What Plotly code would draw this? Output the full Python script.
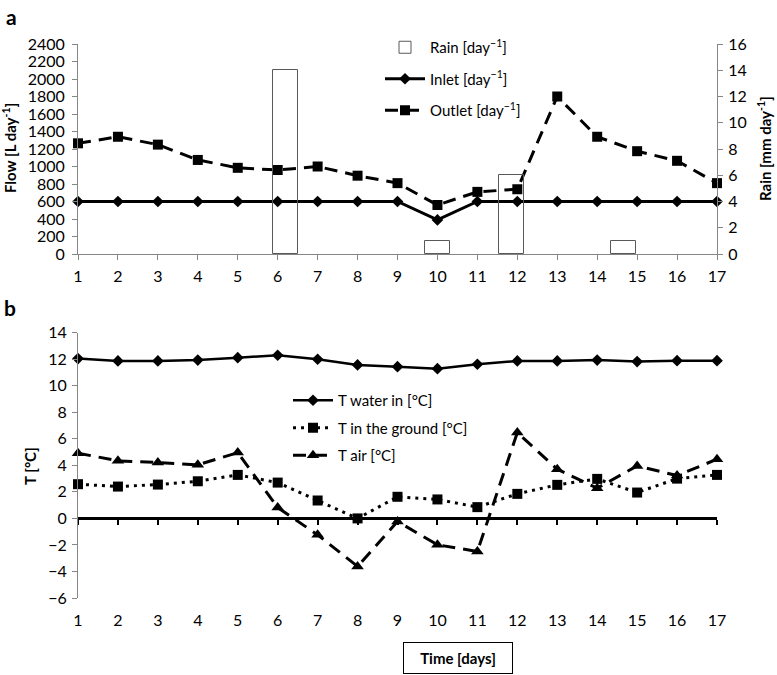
import plotly.graph_objects as go

days = list(range(1, 18))
inlet = [600, 600, 600, 600, 600, 600, 600, 600, 600, 390, 600, 600, 600, 600, 600, 600, 600]
outlet = [1265, 1340, 1250, 1075, 985, 960, 1000, 895, 810, 560, 710, 740, 1800, 1340, 1175, 1065, 810]
rain_pos = [6.2, 10, 11.85, 14.65]
rain = [14, 1, 6, 1]

t_water = [12.05, 11.87, 11.87, 11.94, 12.12, 12.3, 12.0, 11.57, 11.44, 11.29, 11.62, 11.87, 11.87, 11.94, 11.82, 11.89, 11.89]
t_ground = [2.58, 2.4, 2.55, 2.8, 3.28, 2.7, 1.35, 0.0, 1.63, 1.43, 0.85, 1.85, 2.53, 2.98, 1.95, 3.0, 3.28]
t_air = [4.92, 4.34, 4.21, 4.04, 4.96, 0.82, -1.24, -3.62, -0.23, -1.99, -2.49, 6.47, 3.71, 2.28, 3.96, 3.23, 4.46]

W, H = 777, 675
ML, MR, MT, MB = 78, 60, 44, 77
PW, PH = W - ML - MR, H - MT - MB

def px(x):
    return (x - ML) / PW

def py(y):
    return (H - MB - y) / PH

FONT = "Lato"
GRAY = "#868686"
dom_a = [py(254), 1]
dom_b = [0, py(332.7)]
yb_range = [-6, 14]
zero_pos = dom_b[0] + (dom_b[1] - dom_b[0]) * (0 - yb_range[0]) / (yb_range[1] - yb_range[0])

fig = go.Figure()

fig.add_trace(go.Bar(x=rain_pos, y=rain, width=0.625, name="Rain [day<sup>−1</sup>]",
                     marker=dict(color="rgba(255,255,255,0)", line=dict(color="#595959", width=1)),
                     xaxis="x", yaxis="y3", legend="legend", legendgroup="a1"))
fig.add_trace(go.Scatter(x=days, y=inlet, name="Inlet [day<sup>−1</sup>]", mode="lines+markers",
                         line=dict(color="black", width=3),
                         marker=dict(symbol="diamond", size=9, color="black"),
                         xaxis="x", yaxis="y", legend="legend", legendgroup="a2", cliponaxis=False))
fig.add_trace(go.Scatter(x=days, y=outlet, name="Outlet [day<sup>−1</sup>]", mode="lines+markers",
                         line=dict(color="black", width=3, dash="13px,8px"),
                         marker=dict(symbol="square", size=10, color="black"),
                         xaxis="x", yaxis="y", legend="legend", legendgroup="a3", cliponaxis=False))

fig.add_trace(go.Scatter(x=days, y=t_water, name="T water in [°C]", mode="lines+markers",
                         line=dict(color="black", width=2.5),
                         marker=dict(symbol="diamond", size=9, color="black"),
                         xaxis="x2", yaxis="y2", legend="legend2", legendgroup="b1", cliponaxis=False))
fig.add_trace(go.Scatter(x=days, y=t_ground, name="T in the ground [°C]", mode="lines+markers",
                         line=dict(color="black", width=3, dash="3px,5px"),
                         marker=dict(symbol="square", size=10, color="black"),
                         xaxis="x2", yaxis="y2", legend="legend2", legendgroup="b2", cliponaxis=False))
fig.add_trace(go.Scatter(x=days, y=t_air, name="T air [°C]", mode="lines+markers",
                         line=dict(color="black", width=3, dash="13px,8px"),
                         marker=dict(symbol="triangle-up", size=11, color="black"),
                         xaxis="x2", yaxis="y2", legend="legend2", legendgroup="b3", cliponaxis=False))

tickfont = dict(family=FONT, size=16, color="black")

fig.update_layout(
    width=W, height=H,
    margin=dict(l=ML, r=MR, t=MT, b=MB),
    paper_bgcolor="white", plot_bgcolor="white",
    font=dict(family=FONT, size=15, color="black"),
    showlegend=True,
    xaxis=dict(domain=[0, 1], anchor="y", range=[1, 17], tickvals=days,
               showline=True, linecolor=GRAY, linewidth=1, ticks="outside", ticklen=5,
               tickcolor=GRAY, showgrid=False, zeroline=False, tickfont=tickfont,
               ticklabelstandoff=3),
    yaxis=dict(domain=dom_a, anchor="x", range=[0, 2400], dtick=200,
               showline=True, linecolor=GRAY, ticks="outside", ticklen=5, tickcolor=GRAY,
               showgrid=False, zeroline=False, tickfont=tickfont, ticklabelstandoff=4),
    yaxis3=dict(overlaying="y", side="right", anchor="x", range=[0, 16], dtick=2,
                showline=True, linecolor=GRAY, ticks="outside", ticklen=5, tickcolor=GRAY,
                showgrid=False, zeroline=False, tickfont=tickfont, ticklabelstandoff=2),
    xaxis2=dict(domain=[0, 1], anchor="free", position=zero_pos, range=[1, 17], tickvals=days,
                showline=True, linecolor="black", linewidth=3, ticks="outside", ticklen=5,
                tickwidth=2, tickcolor="black", showgrid=False, zeroline=False,
                tickfont=tickfont, ticklabelstandoff=81, layer="below traces"),
    yaxis2=dict(domain=dom_b, anchor="x2", range=yb_range, dtick=2,
                showline=True, linecolor=GRAY, ticks="outside", ticklen=5, tickcolor=GRAY,
                showgrid=False, zeroline=False, tickfont=tickfont, ticklabelstandoff=2),
    legend=dict(x=px(380), y=py(31), xanchor="left", yanchor="top", bgcolor="rgba(0,0,0,0)",
                font=dict(family=FONT, size=15), tracegroupgap=9, itemwidth=40,
                orientation="v", traceorder="grouped"),
    legend2=dict(x=px(288), y=py(384), xanchor="left", yanchor="top", bgcolor="rgba(0,0,0,0)",
                 font=dict(family=FONT, size=15), tracegroupgap=5, itemwidth=40,
                 orientation="v", traceorder="grouped"),
    bargap=0,
)

ann = [
    dict(text="<b>a</b>", x=px(11), y=py(17), font=dict(size=21)),
    dict(text="<b>b</b>", x=px(10), y=py(307), font=dict(size=21)),
    dict(text="<b>Flow [L day<sup>-1</sup>]</b>", x=px(9), y=py(148), textangle=-90, font=dict(size=15)),
    dict(text="<b>Rain [mm day<sup>-1</sup>]</b>", x=px(764), y=py(149), textangle=-90, font=dict(size=15)),
    dict(text="<b>T [°C]</b>", x=px(30), y=py(466), textangle=-90, font=dict(size=15)),
    dict(text="<b>Time [days]</b>", x=px(458), y=py(657.5), font=dict(size=15),
         bordercolor="black", borderwidth=1, width=106, height=28, borderpad=1),
]
for a in ann:
    a.update(xref="paper", yref="paper", showarrow=False, xanchor="center", yanchor="middle")
    a["font"] = dict(family=FONT, color="black", **a["font"])
    fig.add_annotation(**a)

fig.write_html("out.html", config={"displayModeBar": False},
               post_script="document.body.style.margin='0';")
